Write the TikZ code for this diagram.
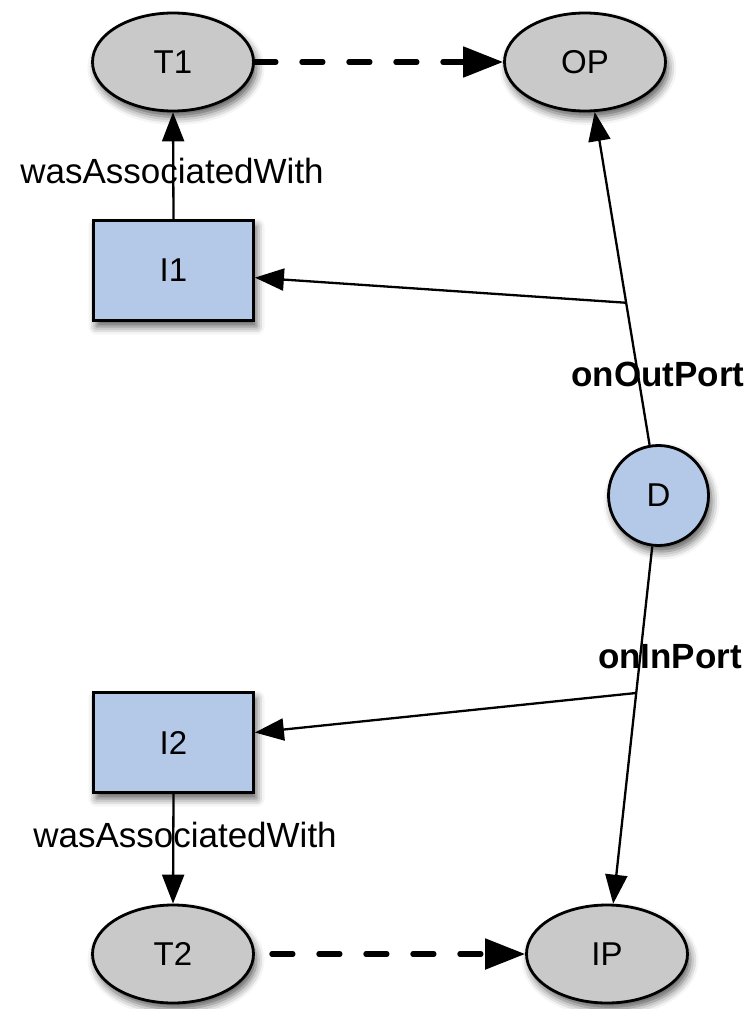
\documentclass[tikz,border=0pt]{standalone}
\usepackage{fontspec}
\setmainfont{Liberation Sans}
\usetikzlibrary{shapes.geometric,arrows.meta,shadows.blur}

\definecolor{entitygray}{RGB}{201,201,201}
\definecolor{agentblue}{RGB}{180,200,231}

\tikzset{
  softshadow/.style={blur shadow={shadow xshift=3pt, shadow yshift=-6pt,
      shadow blur radius=8pt, shadow opacity=65}},
  portnode/.style={ellipse, draw, line width=2.8pt, fill=entitygray,
      minimum width=161pt, minimum height=98pt, inner sep=0pt, softshadow,
      font=\fontsize{33}{40}\selectfont},
  instnode/.style={rectangle, draw, line width=2.8pt, fill=agentblue,
      minimum width=160pt, minimum height=100pt, inner sep=0pt, softshadow,
      font=\fontsize{33}{40}\selectfont},
  datanode/.style={circle, draw, line width=2.8pt, fill=agentblue,
      minimum size=100pt, inner sep=0pt, softshadow,
      font=\fontsize{33}{40}\selectfont},
  relarrow/.style={line width=2.3pt, -{Triangle[length=29pt,width=22pt]}},
  flowarrow/.style={line width=5.2pt, line cap=round,
      dash pattern=on 21pt off 26pt,
      -{Triangle[length=40pt,width=30pt,line cap=butt]}},
  rellabel/.style={anchor=base, inner sep=0pt, font=\fontsize{35}{42}\selectfont},
  boldlabel/.style={anchor=base, inner sep=0pt, font=\fontsize{35}{42}\selectfont\bfseries},
}

\begin{document}
\begin{tikzpicture}[x=1pt, y=-1pt]
  \useasboundingbox (0,0) rectangle (752,1009);

  % ports, invocations and the data item
  \node[portnode] (T1) at (173,62)  {T1};
  \node[portnode] (OP) at (585,62)  {OP};
  \node[instnode] (I1) at (173.5,270.5) {I1};
  \node[datanode] (D)  at (658.5,495.5) {D};
  \node[instnode] (I2) at (173.5,742.5) {I2};
  \node[portnode] (T2) at (173,954) {T2};
  \node[portnode] (IP) at (607,954) {IP};

  % relation labels
  \node[rellabel]  (la1) at (172,183) {wasAssociatedWith};
  \node[rellabel]  (la2) at (185,847) {wasAssociatedWith};
  \node[boldlabel] (lo)  at (658,386) {onOutPort};
  \node[boldlabel] (li)  at (670,668) {onInPort};

  % association of each invocation with its template
  \draw[relarrow] (I1.north) -- (T1.south);
  \draw[relarrow] (I2.south) -- (T2.north);

  % output port of the data item, with its branch to the invocation
  \draw[relarrow] (D.100) -- (OP.-79) coordinate[pos=0.427] (J1);
  \draw[relarrow] (J1) -- (I1.-5);

  % input port of the data item, with its branch to the invocation
  \draw[relarrow] (D.-97) -- (IP.83) coordinate[pos=0.41] (J2);
  \draw[relarrow] (J2) -- (I2.7);

  % template to port links
  \draw[flowarrow] (T1.east) -- (OP.west);
  \draw[flowarrow, shorten <=17pt] (T2.east) -- (IP.west);
\end{tikzpicture}
\end{document}
